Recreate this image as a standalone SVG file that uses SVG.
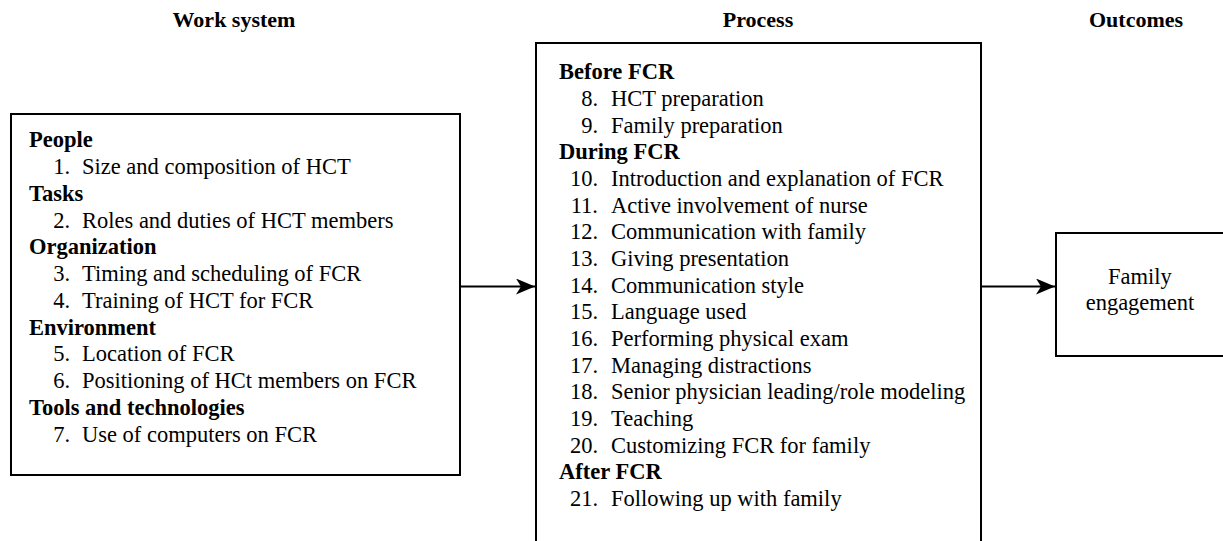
<svg xmlns="http://www.w3.org/2000/svg" width="1223" height="541" viewBox="0 0 1223 541">
<style>
text{font-family:"Liberation Serif","Times New Roman",serif;font-size:22.5px;fill:#000}
.h{font-size:22px}
.b{font-weight:bold}
.num{text-anchor:end}
.mid{text-anchor:middle}
.box{fill:#fff;stroke:#000;stroke-width:2}
.conn{stroke:#000;stroke-width:2;fill:none}
</style>
<defs>
<marker id="arr" markerUnits="userSpaceOnUse" markerWidth="22" markerHeight="18" refX="19" refY="8" orient="auto">
<path d="M0,0 L19,8 L0,16 L5,8 z" fill="#000"/>
</marker>
</defs>
<g id="headings">
<text class="b mid h" x="234" y="26.5">Work system</text>
<text class="b mid h" x="758" y="26.5">Process</text>
<text class="b mid h" x="1136" y="26.5">Outcomes</text>
</g>
<g id="work-system">
<rect class="box" x="11" y="114" width="449" height="361"/>
<text class="b" x="29" y="147">People</text>
<text class="num" x="70" y="174">1.</text><text x="82" y="174">Size and composition of HCT</text>
<text class="b" x="29" y="200.7">Tasks</text>
<text class="num" x="70" y="227.5">2.</text><text x="82" y="227.5">Roles and duties of HCT members</text>
<text class="b" x="29" y="254.3">Organization</text>
<text class="num" x="70" y="281">3.</text><text x="82" y="281">Timing and scheduling of FCR</text>
<text class="num" x="70" y="307.8">4.</text><text x="82" y="307.8">Training of HCT for FCR</text>
<text class="b" x="29" y="334.5">Environment</text>
<text class="num" x="70" y="361.3">5.</text><text x="82" y="361.3">Location of FCR</text>
<text class="num" x="70" y="388">6.</text><text x="82" y="388">Positioning of HCt members on FCR</text>
<text class="b" x="29" y="414.8">Tools and technologies</text>
<text class="num" x="70" y="441.6">7.</text><text x="82" y="441.6">Use of computers on FCR</text>
</g>
<g id="process">
<rect class="box" x="536" y="43" width="445" height="510"/>
<text class="b" x="559" y="79.3">Before FCR</text>
<text class="num" x="598" y="106">8.</text><text x="611" y="106">HCT preparation</text>
<text class="num" x="598" y="132.7">9.</text><text x="611" y="132.7">Family preparation</text>
<text class="b" x="559" y="159.3">During FCR</text>
<text class="num" x="598" y="186">10.</text><text x="611" y="186">Introduction and explanation of FCR</text>
<text class="num" x="598" y="212.7">11.</text><text x="611" y="212.7">Active involvement of nurse</text>
<text class="num" x="598" y="239.3">12.</text><text x="611" y="239.3">Communication with family</text>
<text class="num" x="598" y="266">13.</text><text x="611" y="266">Giving presentation</text>
<text class="num" x="598" y="292.7">14.</text><text x="611" y="292.7">Communication style</text>
<text class="num" x="598" y="319.3">15.</text><text x="611" y="319.3">Language used</text>
<text class="num" x="598" y="346">16.</text><text x="611" y="346">Performing physical exam</text>
<text class="num" x="598" y="372.7">17.</text><text x="611" y="372.7">Managing distractions</text>
<text class="num" x="598" y="399.3">18.</text><text x="611" y="399.3">Senior physician leading/role modeling</text>
<text class="num" x="598" y="426">19.</text><text x="611" y="426">Teaching</text>
<text class="num" x="598" y="452.7">20.</text><text x="611" y="452.7">Customizing FCR for family</text>
<text class="b" x="559" y="479.3">After FCR</text>
<text class="num" x="598" y="506">21.</text><text x="611" y="506">Following up with family</text>
</g>
<g id="outcomes">
<rect class="box" x="1056" y="233" width="180" height="123"/>
<text class="mid" x="1140" y="283.5">Family</text>
<text class="mid" x="1140" y="309.5">engagement</text>
</g>
<g id="connectors">
<line class="conn" x1="460" y1="286.5" x2="535" y2="286.5" marker-end="url(#arr)"/>
<line class="conn" x1="981" y1="286.5" x2="1055" y2="286.5" marker-end="url(#arr)"/>
</g>
</svg>
